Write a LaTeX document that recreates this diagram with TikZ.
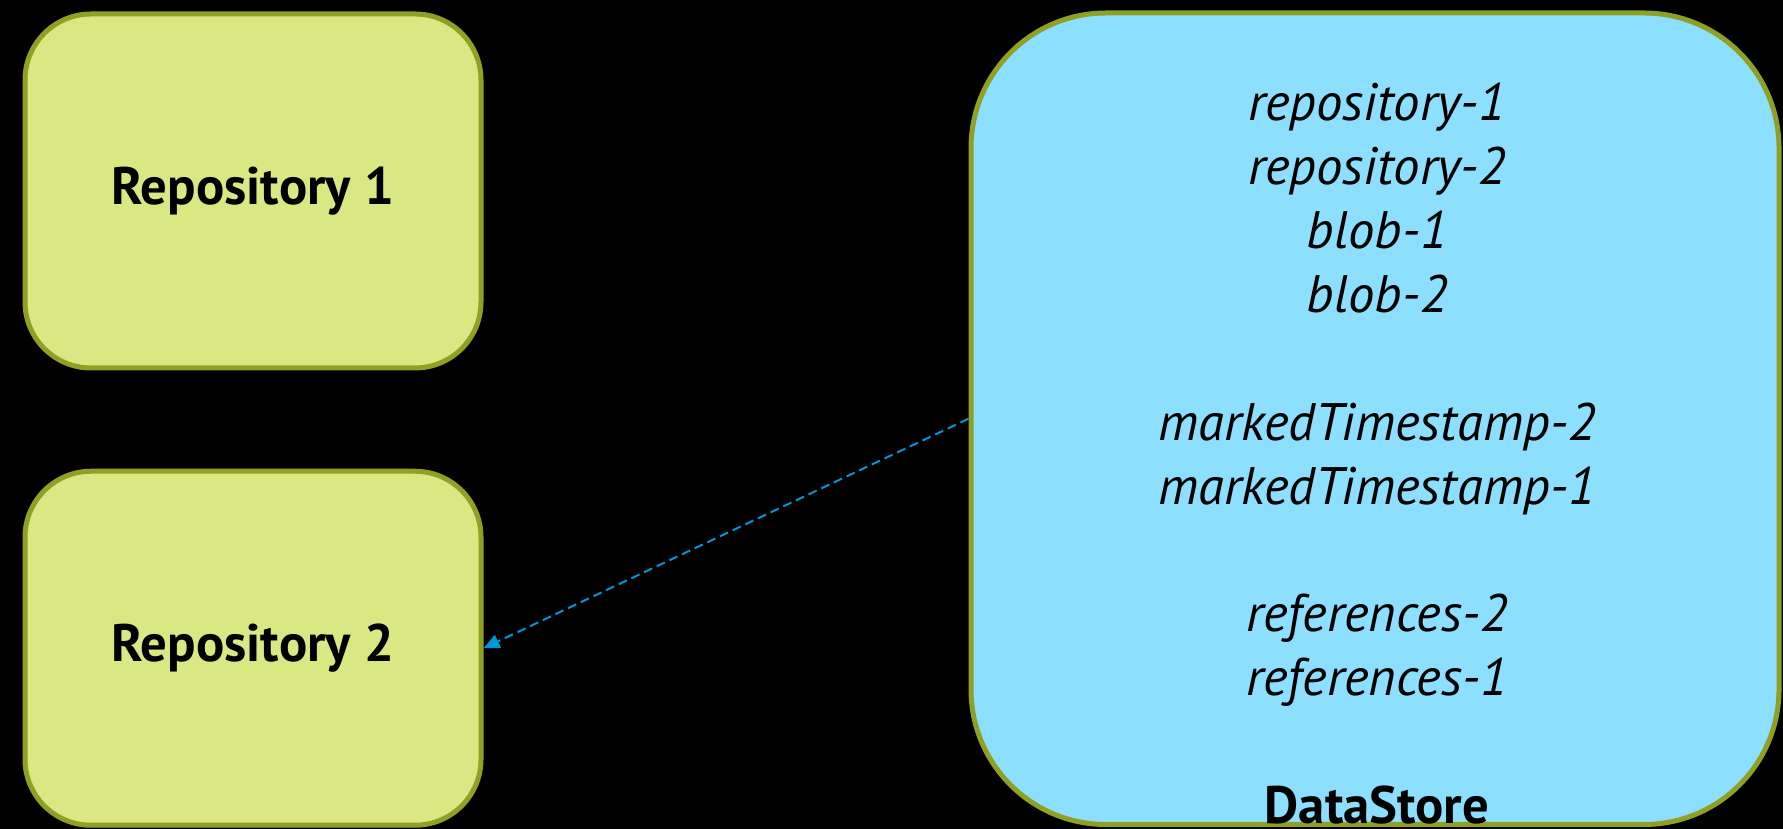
\documentclass[tikz,border=0pt]{standalone}
\usepackage{fontspec}
\setmainfont{PT Sans}
\usetikzlibrary{arrows.meta}
\definecolor{repofill}{RGB}{218,232,132}
\definecolor{olive}{RGB}{143,160,34}
\definecolor{storefill}{RGB}{141,223,255}
\definecolor{linkblue}{RGB}{0,150,214}
\tikzset{
  repobox/.style={draw=olive, fill=repofill, line width=0.5mm, rounded corners=6.6mm,
    minimum width=45.6mm, minimum height=35.4mm, inner sep=0pt,
    font=\fontsize{15}{18}\selectfont\bfseries},
  storebox/.style={draw=olive, fill=storefill, line width=0.5mm, rounded corners=13.5mm,
    minimum width=80.8mm, minimum height=81.15mm, inner sep=0pt},
  storetext/.style={align=center, inner sep=0pt, font=\fontsize{15}{18.2}\selectfont},
  link/.style={draw=linkblue, line width=0.2mm, dash pattern=on 0.9mm off 0.5mm,
    -{Triangle[length=1.6mm,width=1.4mm]}}
}
\begin{document}
\begin{tikzpicture}[x=0.1mm,y=-0.1mm]
  \fill[black] (0,0) rectangle (1783,829);
  \useasboundingbox (0,0) rectangle (1783,829);
  \node[repobox] (rep1) at (253,191) {Repository 1};
  \node[repobox] (rep2) at (253,648.25) {Repository 2};
  \node[storebox] (ds) at (1375,418.75) {};
  \node[storetext, anchor=north] (dstext) at (1377,82) {%
    \itshape repository-1\\ \itshape repository-2\\ \itshape blob-1\\ \itshape blob-2\\[18.2pt]
    \itshape markedTimestamp-2\\ \itshape markedTimestamp-1\\[18.2pt]
    \itshape references-2\\ \itshape references-1\\[18.2pt]
    \bfseries DataStore};
  \draw[link] (ds.west) -- (rep2.east);
\end{tikzpicture}
\end{document}
